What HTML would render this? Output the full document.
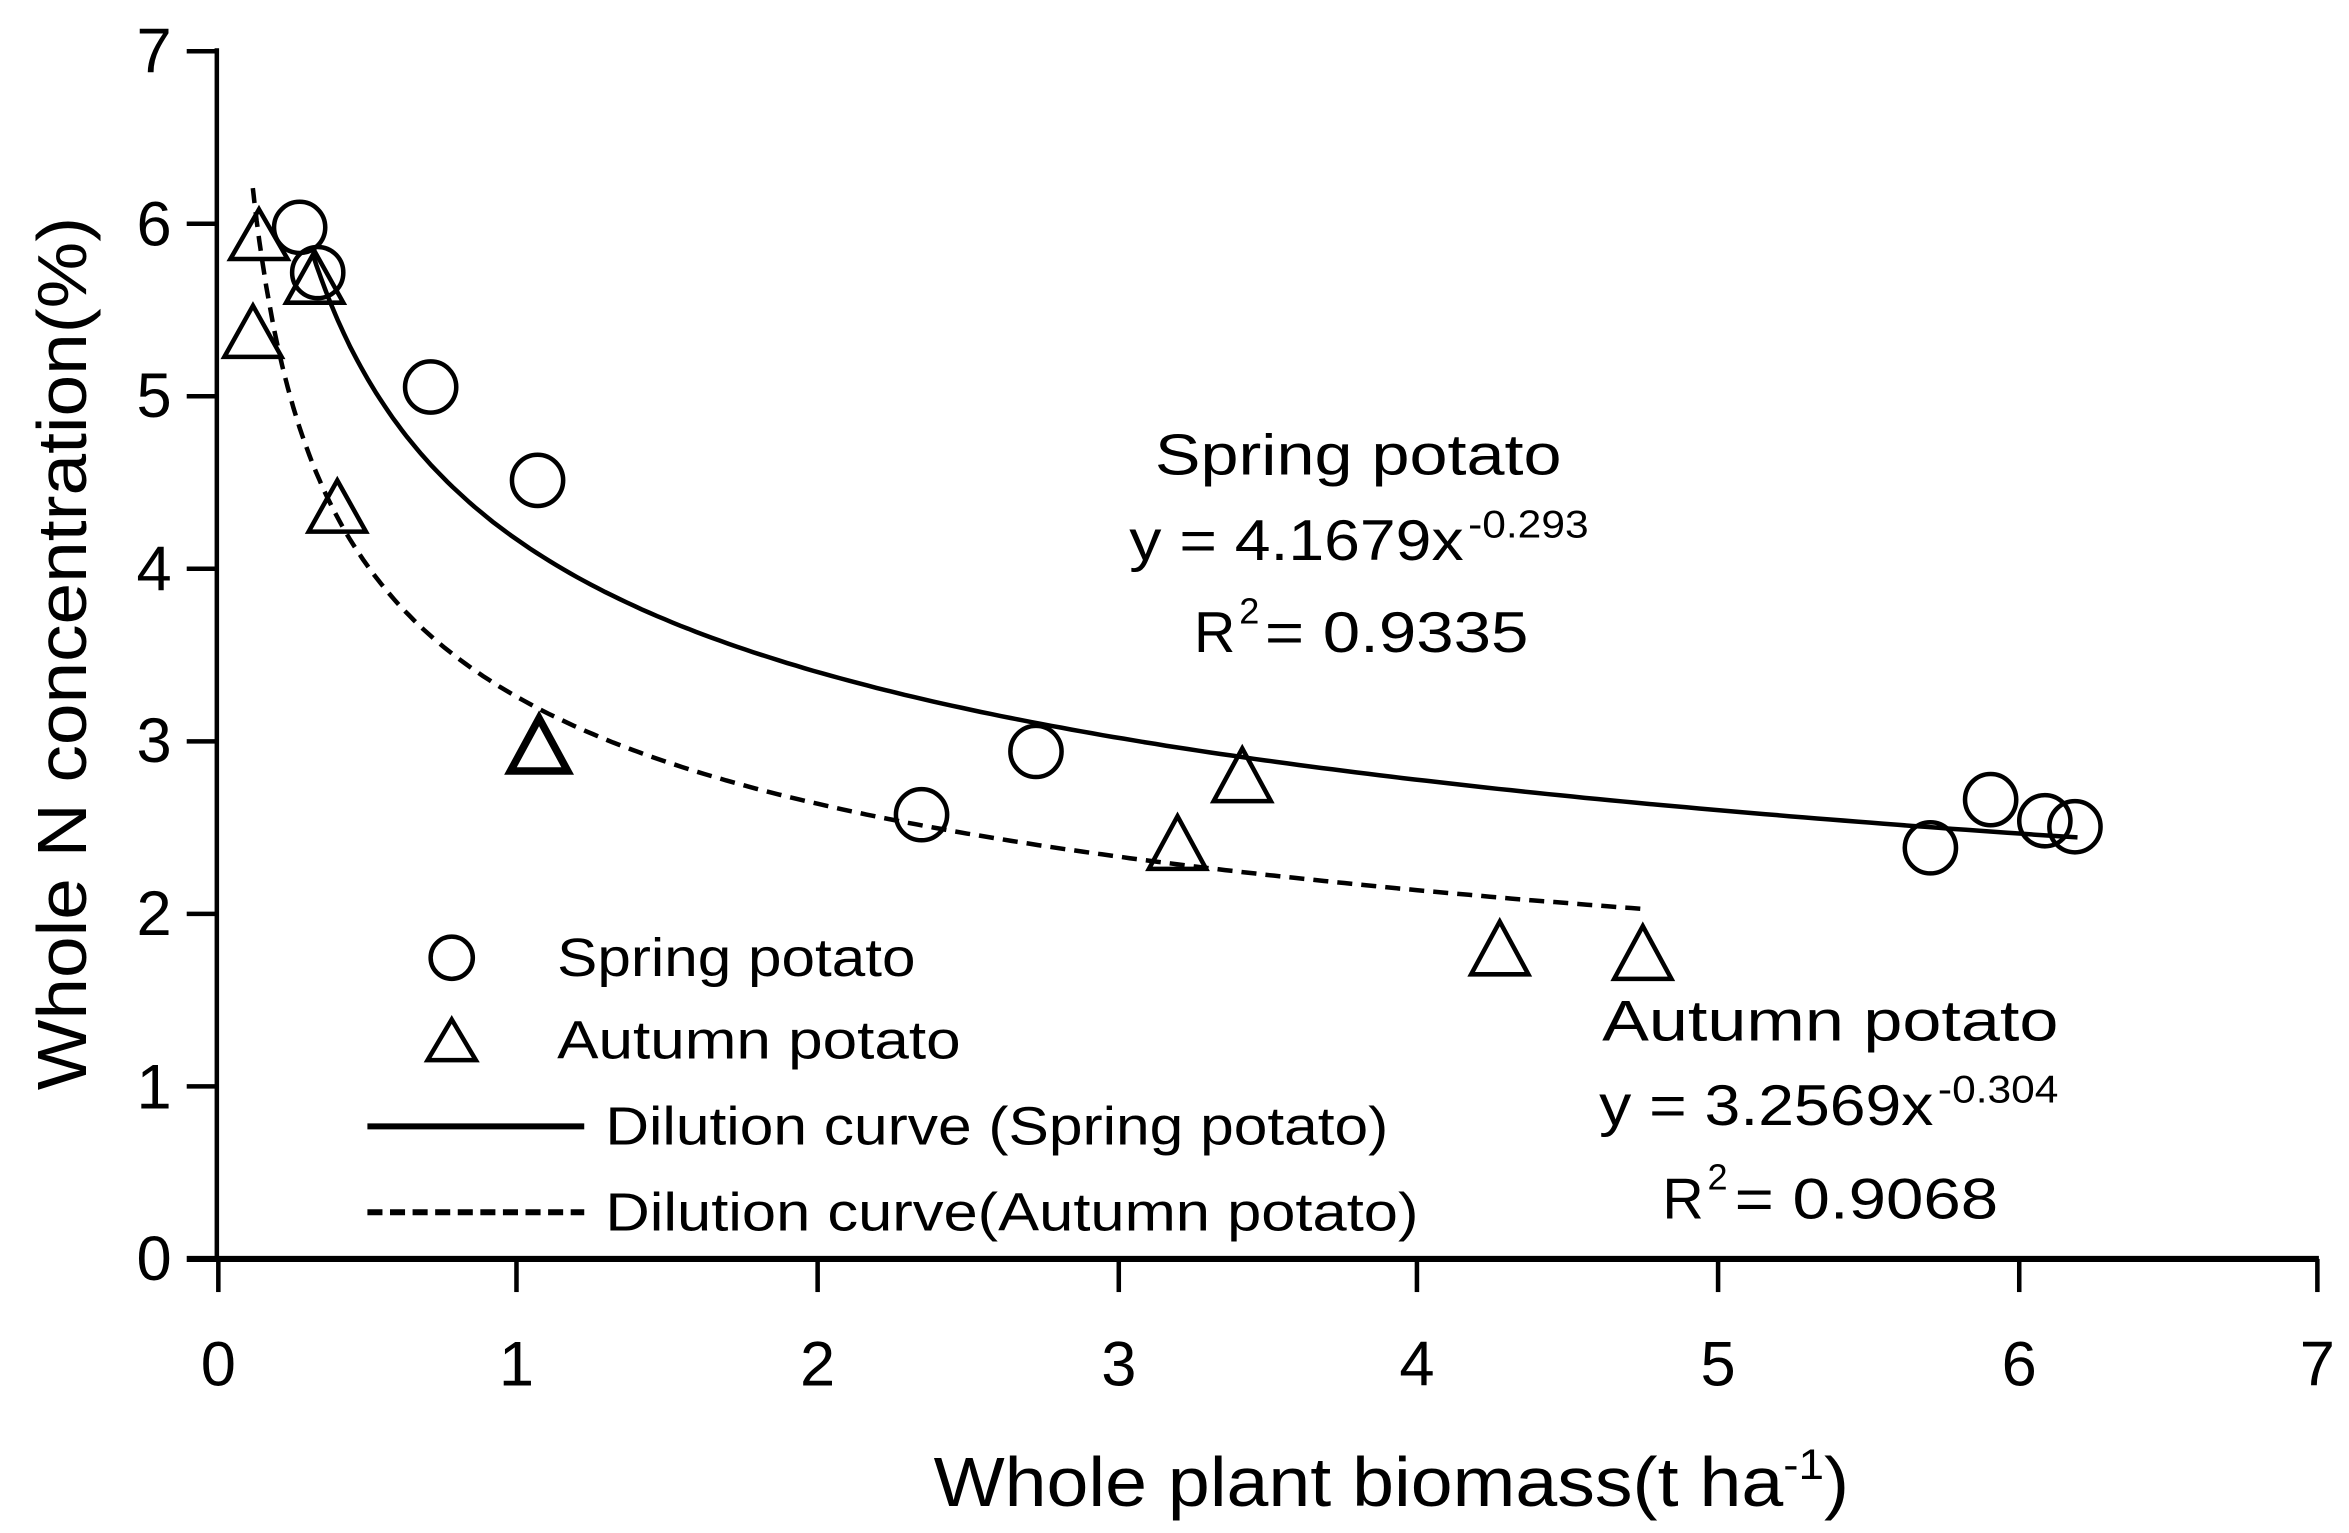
<!DOCTYPE html>
<html><head><meta charset="utf-8"><style>
html,body{margin:0;padding:0;background:#fff;}
svg{display:block;}
text{font-family:"Liberation Sans Narrow","Liberation Sans",sans-serif;fill:#000;}
</style></head><body>
<svg width="2349" height="1533" viewBox="0 0 1560 1018" preserveAspectRatio="none" xmlns="http://www.w3.org/2000/svg">
<rect width="1560" height="1018" fill="#fff"/>
<g stroke="#000" stroke-width="3" fill="none">
<line x1="144" y1="32" x2="144" y2="838"/>
<line x1="124" y1="836" x2="1540" y2="836" stroke-width="4"/>
<line x1="124" y1="34" x2="144" y2="34"/>
<line x1="124" y1="148.6" x2="144" y2="148.6"/>
<line x1="124" y1="263.1" x2="144" y2="263.1"/>
<line x1="124" y1="377.7" x2="144" y2="377.7"/>
<line x1="124" y1="492.3" x2="144" y2="492.3"/>
<line x1="124" y1="606.9" x2="144" y2="606.9"/>
<line x1="124" y1="721.4" x2="144" y2="721.4"/>
<line x1="145" y1="836" x2="145" y2="858"/>
<line x1="343" y1="836" x2="343" y2="858"/>
<line x1="543" y1="836" x2="543" y2="858"/>
<line x1="743" y1="836" x2="743" y2="858"/>
<line x1="941" y1="836" x2="941" y2="858"/>
<line x1="1141" y1="836" x2="1141" y2="858"/>
<line x1="1341" y1="836" x2="1341" y2="858"/>
<line x1="1539" y1="836" x2="1539" y2="858"/>
</g>
<g font-size="42" text-anchor="end">
<text x="114" y="48">7</text><text x="114" y="163">6</text><text x="114" y="277">5</text>
<text x="114" y="392">4</text><text x="114" y="506">3</text><text x="114" y="621">2</text>
<text x="114" y="736">1</text><text x="114" y="850">0</text>
</g>
<g font-size="42" text-anchor="middle">
<text x="145" y="920">0</text><text x="343" y="920">1</text><text x="543" y="920">2</text>
<text x="743" y="920">3</text><text x="941" y="920">4</text><text x="1141" y="920">5</text>
<text x="1341" y="920">6</text><text x="1539" y="920">7</text>
</g>
<text x="620" y="1000" font-size="46" textLength="608" lengthAdjust="spacingAndGlyphs">Whole plant biomass(t ha<tspan font-size="28" dy="-18">-1</tspan><tspan dy="18">)</tspan></text>
<text transform="translate(57,724) rotate(-90)" font-size="46" textLength="580" lengthAdjust="spacingAndGlyphs">Whole N concentration(%)</text>
<path id="sp" fill="none" stroke="#000" stroke-width="3" d=""/>
<path id="au" fill="none" stroke="#000" stroke-width="3" stroke-dasharray="10,6" d=""/>
<g fill="none" stroke="#000" stroke-width="3">
<circle cx="199" cy="151" r="17"/><circle cx="211" cy="181" r="17"/>
<circle cx="286" cy="257" r="17"/><circle cx="357" cy="319" r="17"/>
<circle cx="612" cy="541" r="17"/><circle cx="688" cy="499" r="17"/>
<circle cx="1282" cy="563" r="17"/><circle cx="1322" cy="531" r="17"/>
<circle cx="1358" cy="545" r="17"/><circle cx="1378" cy="549" r="17"/>
<circle cx="300" cy="636" r="14"/>
</g>
<g fill="none" stroke="#000" stroke-width="3">
<path d="M172,139 L191,172 L153,172 Z"/>
<path d="M168,203 L187,237 L149,237 Z"/>
<path d="M209,167 L228,201 L190,201 Z"/>
<path d="M224,319 L243,353 L205,353 Z"/>
<path d="M358,477 L377,512 L339,512 Z" stroke-width="5"/>
<path d="M782,542 L801,577 L763,577 Z"/>
<path d="M825,497 L844,532 L806,532 Z"/>
<path d="M996,612 L1015,647 L977,647 Z"/>
<path d="M1091,615 L1110,650 L1072,650 Z"/>
<path d="M300,677 L316,704 L284,704 Z"/>
</g>
<line x1="244" y1="748" x2="388" y2="748" stroke="#000" stroke-width="4"/>
<line x1="244" y1="805" x2="388" y2="805" stroke="#000" stroke-width="4" stroke-dasharray="10,5"/>
<g font-size="36">
<text x="370" y="648" textLength="238" lengthAdjust="spacingAndGlyphs">Spring potato</text>
<text x="370" y="703" textLength="268" lengthAdjust="spacingAndGlyphs">Autumn potato</text>
<text x="402" y="760" textLength="520" lengthAdjust="spacingAndGlyphs">Dilution curve (Spring potato)</text>
<text x="402" y="817" textLength="540" lengthAdjust="spacingAndGlyphs">Dilution curve(Autumn potato)</text>
</g>
<g font-size="38">
<text x="767" y="315" textLength="270" lengthAdjust="spacingAndGlyphs">Spring potato</text>
<text x="750" y="372" textLength="222" lengthAdjust="spacingAndGlyphs">y = 4.1679x</text>
<text x="975" y="357" font-size="26" textLength="80" lengthAdjust="spacingAndGlyphs">-0.293</text>
<text x="793" y="433" textLength="30">R</text><text x="823" y="414" font-size="24">2</text>
<text x="840" y="433" textLength="175" lengthAdjust="spacingAndGlyphs">= 0.9335</text>
<text x="1064" y="691" textLength="303" lengthAdjust="spacingAndGlyphs">Autumn potato</text>
<text x="1062" y="747" textLength="222" lengthAdjust="spacingAndGlyphs">y = 3.2569x</text>
<text x="1287" y="732" font-size="26" textLength="80" lengthAdjust="spacingAndGlyphs">-0.304</text>
<text x="1104" y="809" textLength="30">R</text><text x="1134" y="790" font-size="24">2</text>
<text x="1152" y="809" textLength="175" lengthAdjust="spacingAndGlyphs">= 0.9068</text>
</g>
<script>
function mk(a,b,x0,x1){var d="";for(var i=0;i<=200;i++){var x=x0+(x1-x0)*Math.pow(i/200,1.6);var px=144+199.3*x,py=836-114.6*a*Math.pow(x,b);d+=(i?"L":"M")+px.toFixed(1)+","+py.toFixed(1);}return d;}
document.getElementById("sp").setAttribute("d",mk(4.1679,-0.293,0.32,6.2));
document.getElementById("au").setAttribute("d",mk(3.2569,-0.304,0.12,4.75));
</script>
</svg>
</body></html>
